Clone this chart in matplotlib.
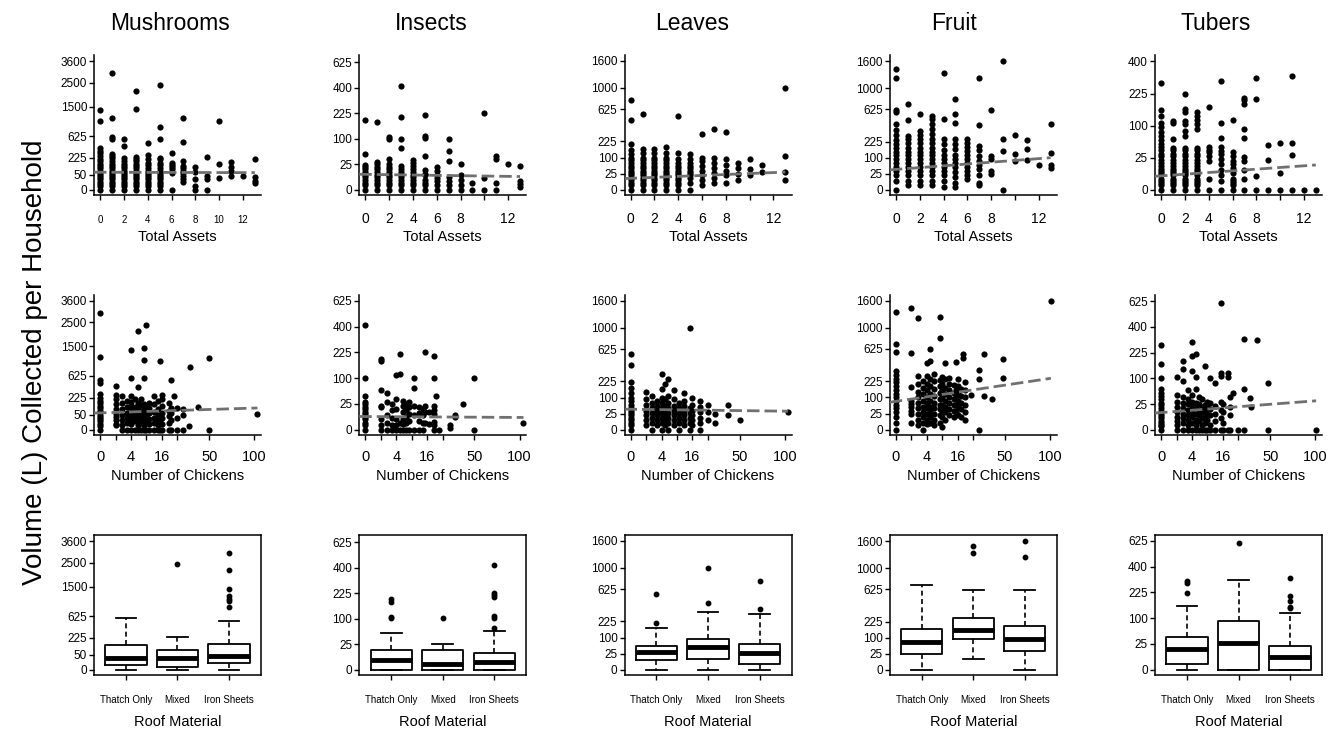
import numpy as np
import matplotlib
matplotlib.use("Agg")
import matplotlib.pyplot as plt

plt.rcParams['font.family'] = ['Liberation Sans', 'DejaVu Sans']

foods = ["Mushrooms", "Insects", "Leaves", "Fruit", "Tubers"]
roof_types = ["Thatch Only", "Mixed", "Iron Sheets"]

# ---- volume (L) by total assets : {assets: [volumes]}
mush_assets = {0: [0, 3, 8, 15, 25, 35, 50, 65, 80, 100, 120, 150, 180, 210, 250, 290, 330, 380, 1020, 1400],
               1: [0, 3, 8, 15, 25, 35, 50, 65, 80, 100, 120, 150, 180, 220, 250, 276, 550, 600, 1130, 2980],
               2: [0, 3, 8, 15, 25, 35, 50, 65, 80, 100, 120, 150, 180, 220, 420, 550],
               3: [0, 3, 8, 15, 25, 35, 50, 65, 80, 100, 120, 150, 180, 210, 240, 1430, 2140],
               4: [0, 3, 8, 15, 25, 35, 50, 65, 80, 100, 130, 160, 200, 270, 480],
               5: [0, 3, 8, 15, 25, 35, 50, 65, 80, 100, 130, 160, 200, 225, 568, 854, 2390],
               6: [0, 60, 90, 110, 130, 160, 300],
               7: [15, 25, 40, 60, 80, 100, 120, 180, 500, 1110],
               8: [0, 4, 25, 70, 110],
               9: [0, 26, 44, 240],
               10: [29, 144, 1020],
               11: [44, 79, 110, 163],
               12: [44],
               13: [10, 18, 34, 205]}
insect_assets = {0: [0, 1, 2, 4, 6, 9, 12, 16, 20, 24, 49, 188],
                 1: [0, 1, 2, 4, 6, 9, 12, 16, 20, 25, 30, 177],
                 2: [0, 1, 2, 4, 6, 9, 12, 16, 20, 25, 36, 100, 108],
                 3: [0, 1, 2, 4, 6, 9, 12, 16, 22, 66, 100, 206, 413],
                 4: [0, 1, 2, 4, 6, 9, 12, 16, 22, 27, 33],
                 5: [0, 1, 2, 4, 8, 10, 15, 43, 103, 112, 215],
                 6: [0, 1, 3, 5, 9, 14, 20],
                 7: [0, 1, 3, 6, 31, 57, 100],
                 8: [0, 1, 4, 8, 26],
                 9: [0, 2],
                 10: [0, 5, 225],
                 11: [0, 2, 36, 43],
                 12: [26],
                 13: [0.4, 1.1, 2.8, 21]}
leaf_assets = {0: [0, 2, 5, 9, 14, 20, 27, 35, 45, 55, 70, 85, 100, 120, 150, 200, 470, 770],
               1: [0, 2, 5, 9, 14, 20, 27, 35, 45, 55, 70, 85, 100, 130, 160, 560],
               2: [0, 2, 5, 9, 14, 20, 27, 35, 45, 55, 70, 85, 100, 130, 160],
               3: [0, 2, 5, 9, 14, 20, 27, 35, 45, 55, 70, 85, 100, 130, 180],
               4: [0, 2, 5, 9, 14, 20, 27, 35, 45, 55, 70, 90, 130, 520],
               5: [0, 5, 14, 20, 27, 35, 45, 55, 70, 90, 120],
               6: [2, 9, 20, 35, 55, 80, 100, 300],
               7: [5, 14, 27, 45, 70, 100, 350],
               8: [5, 20, 35, 60, 90, 320],
               9: [10, 25, 45, 70],
               10: [20, 40, 90],
               11: [30, 60],
               13: [10, 30, 110, 990]}
fruit_assets = {0: [0, 8, 20, 35, 50, 70, 90, 115, 140, 170, 200, 240, 290, 350, 420, 580, 620, 1200, 1410],
                1: [2, 8, 20, 35, 50, 70, 90, 115, 140, 170, 210, 250, 280, 470, 710],
                2: [2, 8, 20, 35, 50, 70, 90, 115, 140, 170, 210, 250, 290, 334, 550],
                3: [2, 8, 20, 35, 50, 70, 90, 115, 140, 170, 210, 250, 300, 360, 420, 480, 530],
                4: [1, 8, 20, 35, 50, 70, 90, 115, 150, 200, 250, 490, 1325],
                5: [1, 5, 15, 30, 50, 70, 90, 120, 160, 200, 250, 430, 550, 800],
                6: [11, 20, 35, 50, 70, 90, 115, 145, 180, 210, 245],
                7: [2, 5, 20, 40, 60, 80, 110, 150, 186, 412, 1200],
                8: [24, 35, 91, 112, 611],
                9: [0, 146, 246, 1600],
                10: [81, 127, 286],
                11: [87, 159, 240],
                12: [59],
                13: [44, 59, 134, 421]}
tuber_assets = {0: [0, 0.5, 1, 2, 3, 5, 7, 9, 11, 14, 18, 22, 27, 32, 38, 45, 52, 60, 70, 80, 95, 110, 132, 153, 276],
                1: [0, 0.5, 1, 2, 3, 5, 7, 9, 11, 14, 18, 22, 27, 32, 38, 43, 62, 110, 115],
                2: [0, 0.5, 1, 2, 3, 5, 7, 9, 11, 14, 18, 22, 27, 32, 38, 43, 70, 84, 104, 115, 147, 157, 223],
                3: [0, 0.5, 1, 2, 3, 5, 7, 9, 11, 14, 18, 22, 27, 32, 38, 43, 91, 104, 120, 132, 147],
                4: [0, 2.6, 20, 28, 34, 38, 44, 167],
                5: [0, 2, 5.4, 9.6, 16, 23, 31, 37, 43.5, 64, 107, 288],
                6: [0, 0.5, 1.2, 2, 3, 7, 12, 16, 20, 28, 34, 120],
                7: [0, 2.6, 9.6, 20.6, 25.5, 65, 89, 177, 198, 205],
                8: [0, 4.9, 201, 304],
                9: [0, 22, 48],
                10: [0, 6.9, 53],
                11: [0, 30, 53, 316],
                12: [0],
                13: [0]}

# ---- volume (L) by number of chickens : {chickens: [volumes]}
mush_chickens = {0: [0, 3, 8, 15, 25, 35, 50, 65, 80, 100, 120, 150, 180, 220, 276, 480, 540, 1140, 2950],
                 1: [5, 8, 20, 35, 56, 95, 145, 206, 262, 420],
                 2: [0, 5, 20, 50, 90, 150, 250],
                 3: [0, 10, 30, 60, 110, 180],
                 4: [0, 8, 20, 45, 80, 120, 170, 240, 590, 1390],
                 5: [0, 15, 40, 70, 110, 200],
                 6: [0, 5, 25, 55, 100, 150, 388, 2110],
                 7: [0, 10, 30, 70, 130, 200],
                 8: [0, 5, 20, 50, 90, 140, 590, 1040, 1445],
                 9: [0, 15, 40, 80, 120, 2370],
                 10: [0, 8, 25, 60, 100, 160],
                 12: [0, 10, 30, 70, 140, 240],
                 14: [0, 5, 20, 50, 90, 180],
                 15: [0, 15, 40, 1020],
                 16: [0, 8, 30, 60, 120, 200, 260],
                 20: [0, 10, 40, 80, 150],
                 21: [0, 20, 60, 100, 540],
                 23: [252],
                 25: [0, 30, 100],
                 29: [0, 45, 90],
                 33: [3],
                 34: [860],
                 40: [111],
                 50: [0, 1117],
                 104: [56]}
insect_chickens = {0: [0, 1, 2, 4, 6, 9, 12, 16, 20, 25, 30, 44, 100, 408],
                   1: [0, 1, 4, 20, 22, 58, 175, 188],
                   2: [0, 2, 8, 29, 51],
                   3: [0, 1, 5, 15, 25],
                   4: [0, 0.7, 4.5, 16.5, 36, 112],
                   5: [0, 2, 115, 213],
                   6: [0, 1.3, 4.5, 11.7, 22, 32],
                   7: [0, 2, 6, 14, 25],
                   8: [0, 3, 9, 20, 28],
                   10: [0, 8, 22, 65, 100],
                   12: [0, 3, 10, 20],
                   14: [0, 2, 8, 16],
                   15: [2, 12, 22, 226],
                   17: [1.3, 12],
                   20: [0, 0.7, 2.2, 9.6, 14, 22, 100, 207],
                   21: [42],
                   23: [0],
                   30: [0.1, 0.7],
                   34: [6, 8.4],
                   40: [25],
                   50: [0, 100],
                   105: [1.7]}
leaf_chickens = {0: [0, 2, 5, 9, 14, 20, 27, 35, 45, 60, 80, 100, 130, 170, 220, 400, 550],
                 1: [2, 9, 20, 35, 60, 90, 140],
                 2: [0, 5, 14, 27, 45, 70, 110],
                 3: [2, 9, 20, 35, 55, 80],
                 4: [0, 5, 14, 27, 45, 70, 100, 160, 300],
                 5: [2, 9, 20, 35, 55, 90, 200],
                 6: [0, 5, 14, 27, 45, 70, 110, 250],
                 8: [2, 9, 20, 35, 55, 90, 150],
                 10: [0, 5, 14, 27, 45, 70],
                 12: [2, 9, 20, 35, 55, 80, 130],
                 15: [0, 5, 14, 27, 45, 990],
                 16: [2, 9, 20, 35, 60, 100],
                 20: [0, 5, 14, 30, 50, 80],
                 25: [10, 30, 60],
                 30: [5, 25],
                 40: [20, 60],
                 50: [10],
                 104: [30]}
fruit_chickens = {0: [0, 5, 15, 30, 45, 60, 80, 100, 125, 150, 180, 215, 250, 290, 333, 586, 711, 1325],
                  1: [4.2, 24, 35, 49, 64, 81, 172, 571, 1417],
                  2: [1.8, 10, 25, 45, 70, 100, 140, 200, 280, 1202],
                  3: [0, 5, 15, 30, 50, 80, 120, 170, 230],
                  4: [3, 10, 25, 45, 70, 100, 150, 200, 280, 433],
                  5: [5, 15, 30, 50, 80, 120, 180, 250, 450, 620],
                  6: [2, 10, 25, 45, 70, 110, 160, 230, 300],
                  8: [5, 20, 40, 60, 90, 130, 180, 240, 812, 1209],
                  9: [1, 15, 35, 60, 100, 150, 200, 270],
                  10: [10, 30, 50, 80, 120, 170, 250, 425],
                  12: [20, 40, 70, 100, 150, 200, 260],
                  14: [15, 35, 60, 90, 130, 190],
                  15: [30, 60, 100, 150, 442],
                  16: [20, 50, 80, 120, 180, 250],
                  18: [15, 40, 70, 110, 160],
                  19: [500, 547],
                  20: [10, 30, 60, 100, 150, 220],
                  24: [116],
                  29: [0, 246, 341],
                  33: [107, 556],
                  39: [91],
                  48: [253, 486],
                  101: [1600]}
tuber_chickens = {0: [0, 0.5, 1, 2, 3, 5, 7, 10, 14, 18, 23, 28, 35, 43, 52, 62, 100, 166, 273],
                  1: [0, 1, 3, 6, 12, 20, 30, 45, 106],
                  2: [0, 2, 5, 10, 18, 28, 40, 90, 142, 178],
                  3: [0, 1, 4, 8, 15, 25, 35, 60],
                  4: [0, 2, 6, 12, 20, 30, 45, 130, 204, 289],
                  5: [0, 1, 4, 10, 18, 28, 62, 106, 219],
                  6: [0, 3, 8, 15, 25, 40],
                  7: [0, 1, 5, 12, 20, 35],
                  8: [0, 2, 6, 14, 24, 153],
                  9: [0, 4, 10, 20, 30],
                  10: [0, 1, 8, 16, 28, 100],
                  12: [0, 3, 10, 22, 84],
                  15: [0, 5, 15, 30, 109, 123, 603],
                  16: [0, 2, 12, 25],
                  19: [0, 106, 123],
                  20: [0, 8, 20, 40],
                  22: [50],
                  25: [0],
                  29: [0, 64, 311],
                  33: [39],
                  34: [19],
                  39: [302],
                  48: [0, 84],
                  101: [0]}

# ---- roof material boxplots: (whisker low, q1, median, q3, whisker high, outliers)
mush_roof = [(0, 6, 29, 133, 591, []),
             (0, 2, 29, 88, 227, [2423]),
             (0, 10.4, 40, 144, 511, [2983, 2144, 1432, 1177, 1094, 1024, 864])]
insect_roof = [(0, 0, 3.5, 15.7, 52, [191, 177, 108, 103]),
               (0, 0, 1.2, 15.7, 26, [104]),
               (0, 0, 2.2, 11, 58, [418, 229, 215, 206, 112, 103, 68])]
leaf_roof = [(0, 9.4, 31.5, 54, 168, [213, 551]),
             (0, 12, 52, 92, 323, [425, 994]),
             (0, 3.4, 26, 63, 301, [356, 759])]
fruit_roof = [(0, 24, 74, 159, 700, []),
              (11.5, 91, 151, 256, 620, [1318, 1480]),
              (0, 34, 91, 183, 620, [1226, 1600])]
tuber_roof = [(0, 1.2, 16.8, 41, 153, [223, 280, 293]),
              (0, 0, 26.3, 89, 302, [603]),
              (0, 0, 6, 22, 123, [313, 204, 178, 150, 141])]

assets_data = [mush_assets, insect_assets, leaf_assets, fruit_assets, tuber_assets]
chicken_data = [mush_chickens, insect_chickens, leaf_chickens, fruit_chickens, tuber_chickens]
roof_data = [mush_roof, insect_roof, leaf_roof, fruit_roof, tuber_roof]

# fitted lines on sqrt(volume): (intercept, slope)
assets_fit = [(8.19, -0.015), (3.03, -0.033), (3.57, 0.148), (6.34, 0.28), (2.17, 0.131)]
chicken_fit = [(7.87, 0.223), (2.57, -0.0175), (6.38, -0.06), (8.8, 0.71), (3.35, 0.228)]

# y ticks per food
food_yticks = [[0, 50, 225, 625, 1500, 2500, 3600],
               [0, 25, 100, 225, 400, 625],
               [0, 25, 100, 225, 625, 1000, 1600],
               [0, 25, 100, 225, 625, 1000, 1600],
               [0, 25, 100, 225, 400, 625]]
tuber_assets_yticks = [0, 25, 100, 225, 400]
# sqrt of top of data range per food and row
food_ytop = [[60.4, 60.2, 60.4], [25.4, 25.1, 25.4], [40.2, 40.2, 40.2],
             [40.3, 40.1, 40.3], [20.2, 25.2, 25.1]]

assets_ticks = [0, 2, 4, 6, 8, 10, 12]
chicken_ticks = [0, 1, 4, 9, 16, 25, 50, 100]
chicken_labels = ["0", "", "4", "", "16", "", "50", "100"]


def sq(v):
    v = np.asarray(v, float)
    return np.sign(v) * np.sqrt(np.abs(v))


def unsq(v):
    v = np.asarray(v, float)
    return np.sign(v) * v ** 2


W, H = 1333, 731
fig = plt.figure(figsize=(W / 100, H / 100), dpi=100)
lefts = [94, 359.25, 624.5, 889.75, 1155]
tops = [55, 295, 535]
AW, AH = 167, 140


def add_ax(col, row):
    return fig.add_axes([lefts[col] / W, 1 - (tops[row] + AH) / H, AW / W, AH / H])


def style(ax, box=False):
    ax.spines['top'].set_visible(box)
    ax.spines['right'].set_visible(box)
    for s in ax.spines.values():
        s.set_linewidth(1.1)
    ax.tick_params(direction='out', length=3.5, width=1.0, color='black')
    ax.tick_params(axis='y', labelsize=8.5, pad=1.5)


def set_y(ax, i, row):
    ax.set_yscale('function', functions=(sq, unsq))
    m = food_ytop[i][row]
    ax.set_ylim(unsq(-0.04 * m), unsq(1.04 * m))
    ticks = tuber_assets_yticks if (i == 4 and row == 0) else food_yticks[i]
    ax.set_yticks(ticks)
    ax.set_yticklabels([str(t) for t in ticks])
    ax.yaxis.set_minor_locator(matplotlib.ticker.NullLocator())


def scatter_panel(ax, pts, fit, sqrt_x):
    xs = [k for k, vals in pts.items() for v in vals]
    ys = [v for k, vals in pts.items() for v in vals]
    ax.scatter(xs, ys, s=20, color='black', linewidths=0, zorder=3)
    a, b = fit
    if sqrt_x:
        x0 = ax.get_xlim()[0]
        t = np.array([sq(x0), sq(max(xs))])
        lx = unsq(t)
    else:
        t = np.array([ax.get_xlim()[0], max(xs)])
        lx = t
    ly = unsq(a + b * t)
    ax.plot(lx, ly, color='#707070', lw=2.0, dashes=(4.5, 1.8), zorder=4)


for i, food in enumerate(foods):
    # row 1: total assets
    ax = add_ax(i, 0)
    style(ax)
    ax.set_xlim(-0.52, 13.52)
    set_y(ax, i, 0)
    scatter_panel(ax, assets_data[i], assets_fit[i], False)
    ax.set_xticks(assets_ticks)
    if i == 0:
        ax.set_xticklabels([str(t) for t in assets_ticks])
        ax.tick_params(axis='x', labelsize=7, pad=11)
    else:
        ax.set_xticklabels([str(t) if t != 10 else "" for t in assets_ticks])
        ax.tick_params(axis='x', labelsize=10, pad=9)
    ax.text(0.5, -42 / AH, "Total Assets", transform=ax.transAxes,
            ha='center', va='center', fontsize=10.5)

    # row 2: chickens
    ax = add_ax(i, 1)
    style(ax)
    ax.set_xscale('function', functions=(sq, unsq))
    ax.set_xlim(unsq(-0.4), unsq(10.43))
    set_y(ax, i, 1)
    ax.set_xticks(chicken_ticks)
    ax.set_xticklabels(chicken_labels)
    ax.xaxis.set_minor_locator(matplotlib.ticker.NullLocator())
    ax.tick_params(axis='x', labelsize=10.5, pad=7)
    scatter_panel(ax, chicken_data[i], chicken_fit[i], True)
    ax.text(0.5, -41 / AH, "Number of Chickens", transform=ax.transAxes,
            ha='center', va='center', fontsize=10.5)

    # row 3: roof material
    ax = add_ax(i, 2)
    style(ax, box=True)
    set_y(ax, i, 2)
    stats = []
    for lo, q1, med, q3, hi, out in roof_data[i]:
        stats.append(dict(whislo=lo, q1=q1, med=med, q3=q3, whishi=hi, fliers=out))
    ax.bxp(stats, positions=[1, 2, 3], widths=0.8, patch_artist=False,
           boxprops=dict(color='black', lw=1.3),
           medianprops=dict(color='black', lw=3.5, solid_capstyle='butt'),
           whiskerprops=dict(color='black', lw=1.2, dashes=(3, 2)),
           capprops=dict(color='black', lw=1.3),
           flierprops=dict(marker='o', markersize=3.2, markerfacecolor='black',
                           markeredgecolor='black', linestyle='none'))
    ax.set_xlim(0.38, 3.62)
    ax.set_xticks([1, 2, 3])
    ax.set_xticklabels(roof_types)
    ax.tick_params(axis='x', labelsize=7, pad=11)
    ax.text(0.5, -47 / AH, "Roof Material", transform=ax.transAxes,
            ha='center', va='center', fontsize=10.5)

    # column title
    fig.text((170 + 261.3 * i) / W, 1 - 24 / H, food, ha='center', va='center', fontsize=16.5)

fig.text(35 / W, 1 - 362 / H, "Volume (L) Collected per Household", rotation=90,
         ha='center', va='center', fontsize=20)

fig.savefig("out.png", dpi=100)
